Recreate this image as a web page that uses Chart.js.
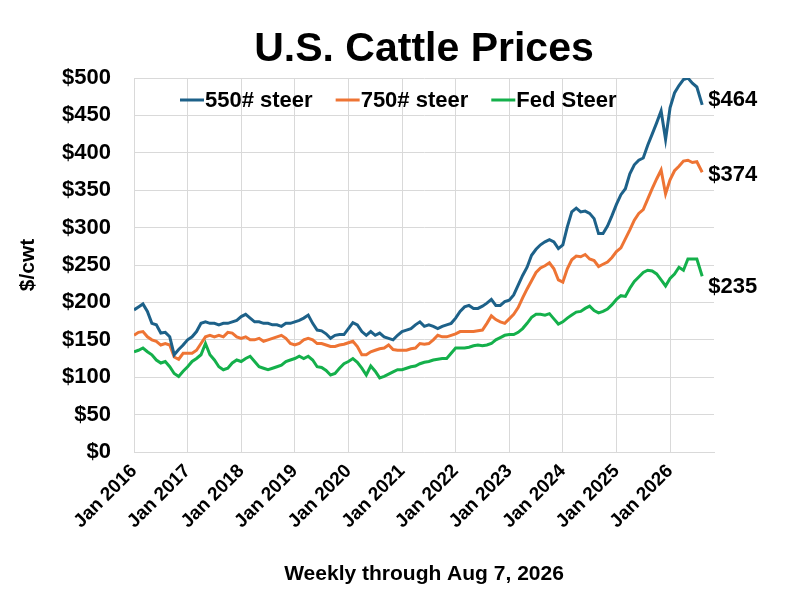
<!DOCTYPE html>
<html>
<head>
<meta charset="utf-8">
<script src="https://cdn.jsdelivr.net/npm/chart.js@4.4.1/dist/chart.umd.min.js"></script>
<style>
  html, body { margin: 0; padding: 0; background: #fff; }
  #wrap { width: 800px; height: 597px; }
</style>
</head>
<body>
<div id="wrap"><canvas id="myChart"></canvas></div>
<script>
// monthly reads off the weekly chart, last point is the Aug 7, 2026 week
const dates = [];
for (let y = 2016; y <= 2026; y++) {
  for (let m = 1; m <= 12; m++) {
    if (y < 2026 || m <= 7) dates.push(y + '-' + String(m).padStart(2, '0') + '-01');
  }
}
dates.push('2026-08-07');

const steer550 = [
  190, 194, 198, 188, 172, 170, 159, 160, 154, 130, 137, 143,
  150, 154, 161, 172, 174, 172, 172, 170, 172, 172, 174, 176,
  181, 184, 179, 174, 174, 172, 172, 170, 170, 168, 172, 172,
  174, 176, 179, 183, 172, 163, 162, 158, 152, 156, 157, 157,
  165, 173, 170, 161, 156, 161, 156, 159, 154, 152, 150, 156,
  161, 163, 165, 170, 174, 168, 170, 168, 165, 168, 170, 172,
  179, 188, 194, 196, 192, 192, 195, 199, 204, 196, 196, 201,
  203, 210, 223, 236, 247, 263, 271, 277, 281, 284, 281, 272,
  277, 301, 321, 326, 321, 322, 319, 312, 292, 292, 302, 316,
  331, 344, 352, 372, 384, 390, 393, 410, 425, 440, 456, 418,
  460, 480, 490, 498, 500, 493, 488,
  464
];
const steer750 = [
  156, 160, 161, 154, 150, 148, 143, 145, 143, 127, 124, 132,
  132, 132, 136, 145, 154, 156, 154, 156, 154, 160, 159, 154,
  152, 154, 150, 150, 152, 148, 150, 152, 154, 156, 152, 145,
  143, 145, 150, 152, 150, 145, 145, 143, 141, 141, 143, 144,
  146, 148, 141, 130, 130, 134, 136, 138, 139, 143, 137, 136,
  136, 136, 138, 139, 145, 144, 145, 150, 156, 154, 154, 156,
  158, 161, 161, 161, 161, 162, 163, 172, 182, 177, 174, 172,
  178, 184, 193, 206, 218, 229, 240, 246, 249, 253, 245, 230,
  227, 245, 257, 262, 261, 264, 258, 256, 248, 251, 254, 260,
  268, 273, 285, 297, 310, 319, 324, 338, 352, 365, 377, 345,
  364, 376, 382, 389, 390, 387, 388,
  374
];
const fedSteer = [
  134, 136, 139, 134, 130, 123, 119, 121, 114, 105, 101, 108,
  114, 121, 125, 130, 145, 130, 123, 114, 110, 112, 119, 123,
  121, 125, 128, 121, 114, 112, 110, 112, 114, 116, 121, 123,
  125, 128, 125, 128, 123, 114, 113, 109, 103, 105, 112, 118,
  121, 125, 120, 112, 103, 115, 108, 99, 101, 104, 107, 110,
  110, 112, 114, 115, 118, 120, 121, 123, 124, 125, 125, 132,
  139, 139, 139, 140, 142, 143, 142, 143, 145, 150, 153, 156,
  157, 157, 160, 165, 172, 180, 184, 184, 183, 185, 178, 171,
  174, 179, 183, 187, 188, 192, 195, 189, 186, 188, 191, 197,
  204, 209, 208, 219, 228, 234, 240, 243, 242, 238, 230, 222,
  232, 238, 247, 243, 258, 258, 258,
  235
];

const seriesNames = ['550# steer', '750# steer', 'Fed Steer'];
const seriesColors = ['#1d6189', '#ee7434', '#14b04b'];
const xTickYears = [2016, 2017, 2018, 2019, 2020, 2021, 2022, 2023, 2024, 2025, 2026];
const yTickValues = [0, 50, 100, 150, 200, 250, 300, 350, 400, 450, 500];

const FONT = "'Liberation Sans', Arial, sans-serif";

function toYear(d) {
  const p = d.split('-').map(Number);
  return p[0] + (p[1] - 1) / 12 + (p[2] - 1) / 365;
}

function makeSet(i, vals) {
  return {
    label: seriesNames[i],
    data: dates.map((d, k) => ({ x: toYear(d), y: vals[k] })),
    borderColor: seriesColors[i],
    backgroundColor: seriesColors[i],
    borderWidth: 3,
    pointRadius: 0,
    tension: 0
  };
}

// legend drawn inside the plot, like the excel one
const insideLegend = {
  id: 'insideLegend',
  afterDraw(chart) {
    const ctx = chart.ctx;
    const area = chart.chartArea;
    ctx.save();
    ctx.font = 'bold 22px ' + FONT;
    ctx.textBaseline = 'middle';
    ctx.textAlign = 'left';
    let x = area.left + 46;
    const y = area.top + 22;
    chart.data.datasets.forEach(ds => {
      ctx.strokeStyle = ds.borderColor;
      ctx.lineWidth = 3;
      ctx.beginPath();
      ctx.moveTo(x, y);
      ctx.lineTo(x + 24, y);
      ctx.stroke();
      ctx.fillStyle = '#000';
      ctx.fillText(ds.label, x + 25, y + 1);
      x += 25 + ctx.measureText(ds.label).width + 23;
    });
    ctx.restore();
  }
};

// last value labels to the right of each line
const endLabels = {
  id: 'endLabels',
  afterDatasetsDraw(chart) {
    const ctx = chart.ctx;
    const nudge = [-5, 3, 11];
    ctx.save();
    ctx.font = 'bold 22px ' + FONT;
    ctx.fillStyle = '#000';
    ctx.textAlign = 'left';
    ctx.textBaseline = 'middle';
    chart.data.datasets.forEach((ds, i) => {
      const meta = chart.getDatasetMeta(i);
      const pt = meta.data[meta.data.length - 1];
      const v = ds.data[ds.data.length - 1].y;
      ctx.fillText('$' + v, pt.x + 6, pt.y + nudge[i]);
    });
    ctx.restore();
  }
};

const ctx = document.getElementById('myChart').getContext('2d');

new Chart(ctx, {
  type: 'line',
  data: {
    datasets: [makeSet(0, steer550), makeSet(1, steer750), makeSet(2, fedSteer)]
  },
  options: {
    responsive: true,
    maintainAspectRatio: false,
    animation: false,
    layout: { padding: { top: 0, right: 86, bottom: 0, left: 0 } },
    plugins: {
      legend: { display: false },
      tooltip: { enabled: false },
      title: {
        display: true,
        text: 'U.S. Cattle Prices',
        fullSize: false,
        color: '#000',
        font: { family: FONT, size: 41, weight: 'bold', lineHeight: 1.2 },
        padding: { top: 25, bottom: 3.8 }
      }
    },
    scales: {
      x: {
        type: 'linear',
        min: 2016,
        max: 2026.82,
        afterBuildTicks: scale => { scale.ticks = xTickYears.map(v => ({ value: v })); },
        afterFit: scale => { scale.height = 145; },
        grid: { color: '#d9d9d9', drawTicks: false },
        border: { color: '#d9d9d9' },
        ticks: {
          autoSkip: false,
          minRotation: 45,
          maxRotation: 45,
          padding: 8,
          color: '#000',
          font: { family: FONT, size: 19, weight: 'bold' },
          callback: v => 'Jan ' + v
        },
        title: {
          display: true,
          text: 'Weekly through Aug 7, 2026',
          color: '#000',
          font: { family: FONT, size: 21, weight: 'bold' },
          padding: { top: 0, bottom: 10 }
        }
      },
      y: {
        min: 0,
        max: 500,
        afterBuildTicks: scale => { scale.ticks = yTickValues.map(v => ({ value: v })); },
        afterFit: scale => { scale.width = 134; },
        grid: { color: '#d9d9d9', drawTicks: false },
        border: { color: '#d9d9d9' },
        ticks: {
          padding: 23,
          color: '#000',
          font: { family: FONT, size: 22, weight: 'bold' },
          callback: v => '$' + v
        },
        title: {
          display: true,
          text: '$/cwt',
          color: '#000',
          font: { family: FONT, size: 21, weight: 'bold' },
          padding: { top: 16, bottom: 0 }
        }
      }
    }
  },
  plugins: [insideLegend, endLabels]
});
</script>
</body>
</html>
